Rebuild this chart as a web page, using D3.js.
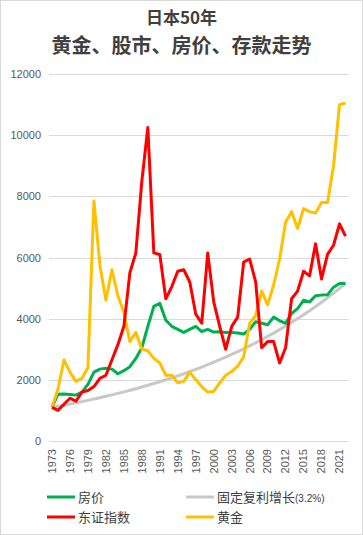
<!DOCTYPE html>
<html>
<head>
<meta charset="utf-8">
<script src="https://cdn.jsdelivr.net/npm/d3@7"></script>
<style>
  body { margin: 0; background: #fff; }
  #chart { width: 363px; height: 535px; }
</style>
</head>
<body>
<div id="chart"></div>
<script>
// years 1973 - 2022
var years = d3.range(1973, 2023);
var tickYears = d3.range(1973, 2022, 3);
var yTicks = [0, 2000, 4000, 6000, 8000, 10000, 12000];

var housing = [1100, 1530, 1540, 1520, 1500, 1600, 1850, 2250, 2350, 2380,
  2350, 2200, 2300, 2430, 2700, 3050, 3750, 4400, 4500, 3950,
  3750, 3650, 3550, 3650, 3750, 3580, 3650, 3560, 3570, 3550,
  3550, 3530, 3500, 3650, 3900, 3850, 3800, 4050, 3930, 3850,
  4170, 4330, 4600, 4550, 4750, 4770, 4780, 5030, 5150, 5150];

var topix = [1100, 1000, 1200, 1400, 1300, 1600, 1650, 1780, 2050, 2150,
  2650, 3150, 3750, 5500, 6150, 8500, 10250, 6150, 6100, 4650,
  5050, 5550, 5600, 5200, 4150, 3850, 6150, 4550, 3750, 3000,
  3750, 4050, 5850, 5950, 5200, 3050, 3250, 3250, 2550, 3050,
  4650, 4900, 5550, 5400, 6450, 5300, 6100, 6400, 7100, 6700];

var gold = [1100, 1700, 2650, 2250, 1950, 2050, 2400, 7850, 5750, 4600,
  5600, 4750, 4200, 3250, 3550, 3000, 2950, 2700, 2550, 2150,
  2150, 1900, 1950, 2250, 2000, 1780, 1600, 1620, 1900, 2150,
  2270, 2450, 2750, 3850, 4100, 4900, 4450, 5100, 5950, 7150,
  7500, 6950, 7600, 7500, 7450, 7800, 7800, 9000, 11000, 11050];

// 3.2% fixed compound growth
var deposit = [1100, 1135, 1172, 1209, 1248, 1288, 1329, 1371, 1415, 1461,
  1507, 1556, 1605, 1657, 1710, 1764, 1821, 1879, 1939, 2001,
  2065, 2131, 2200, 2270, 2343, 2418, 2495, 2575, 2657, 2742,
  2830, 2921, 3014, 3110, 3210, 3313, 3419, 3528, 3641, 3757,
  3878, 4002, 4130, 4262, 4398, 4539, 4684, 4834, 4989, 5149];

var seriesNames = ["房价", "东证指数", "固定复利增长", "黄金"];
var seriesColors = ["#00b050", "#ff0000", "#c8c8c8", "#ffc000"];

var W = 363, H = 535;
var svg = d3.select("#chart").append("svg")
    .attr("width", W)
    .attr("height", H);

// outer frame
svg.append("rect")
    .attr("x", 0.5).attr("y", 0.5)
    .attr("width", W - 1).attr("height", H - 1)
    .attr("fill", "#fff")
    .attr("stroke", "#d9d9d9");

// title, two lines
svg.append("text")
    .attr("x", W / 2).attr("y", 24)
    .attr("text-anchor", "middle")
    .attr("font-family", "'Noto Sans CJK SC', sans-serif")
    .attr("font-weight", "bold")
    .attr("font-size", 17)
    .attr("fill", "#404040")
    .text("日本50年");
svg.append("text")
    .attr("x", W / 2).attr("y", 53)
    .attr("text-anchor", "middle")
    .attr("font-family", "'Noto Sans CJK SC', sans-serif")
    .attr("font-weight", "bold")
    .attr("font-size", 20)
    .attr("fill", "#404040")
    .text("黄金、股市、房价、存款走势");

var x = d3.scaleBand()
    .domain(years)
    .range([49, 348.5]);

var y = d3.scaleLinear()
    .domain([0, 12000])
    .range([441, 74]);

// grid
svg.append("g")
    .selectAll("line")
    .data(yTicks)
    .enter()
    .append("line")
    .attr("x1", 49).attr("x2", 348.5)
    .attr("y1", function (d) { return Math.round(y(d)) + 0.5; })
    .attr("y2", function (d) { return Math.round(y(d)) + 0.5; })
    .attr("stroke", "#d9d9d9")
    .attr("stroke-width", 1);

// y axis labels
var yAxis = d3.axisLeft(y).tickValues(yTicks).tickFormat(d3.format("d")).tickSize(0).tickPadding(0);
var gy = svg.append("g")
    .attr("transform", "translate(41,0)")
    .call(yAxis);
gy.select(".domain").remove();
gy.selectAll("text")
    .attr("font-family", "'Liberation Sans', Arial, sans-serif")
    .attr("font-size", 11)
    .attr("fill", "#595959");

// x axis labels, rotated
var xAxis = d3.axisBottom(x).tickValues(tickYears).tickSize(0).tickPadding(0);
var gx = svg.append("g")
    .attr("transform", "translate(0,441)")
    .call(xAxis);
gx.select(".domain").remove();
gx.selectAll("text")
    .attr("font-family", "'Liberation Sans', Arial, sans-serif")
    .attr("font-size", 11)
    .attr("fill", "#595959")
    .attr("text-anchor", "end")
    .attr("dy", "0.35em")
    .attr("transform", "translate(0,8) rotate(-90)");

var line = d3.line()
    .x(function (d, i) { return x(years[i]) + x.bandwidth() / 2; })
    .y(function (d) { return y(d); });

// draw order: deposit, housing, gold, topix (topix on top)
var drawOrder = [[deposit, 2], [housing, 0], [gold, 3], [topix, 1]];
drawOrder.forEach(function (s) {
    svg.append("path")
        .datum(s[0])
        .attr("d", line)
        .attr("fill", "none")
        .attr("stroke", seriesColors[s[1]])
        .attr("stroke-width", 3)
        .attr("stroke-linejoin", "round");
});

// legend
var legendPos = [[47, 497], [47, 517], [186, 497], [186, 517]];
seriesNames.forEach(function (name, i) {
    var p = legendPos[i];
    svg.append("line")
        .attr("x1", p[0]).attr("x2", p[0] + 28)
        .attr("y1", p[1]).attr("y2", p[1])
        .attr("stroke", seriesColors[i])
        .attr("stroke-width", 3);
    var t = svg.append("text")
        .attr("x", p[0] + 31)
        .attr("y", p[1])
        .attr("dy", "0.36em")
        .attr("font-family", "'Noto Sans CJK SC', sans-serif")
        .attr("font-size", 13)
        .attr("fill", "#404040")
        .text(name);
    if (i == 2) {
        t.append("tspan")
            .attr("font-family", "'Liberation Sans', Arial, sans-serif")
            .attr("font-size", 10)
            .text("(3.2%)");
    }
});
</script>
</body>
</html>
